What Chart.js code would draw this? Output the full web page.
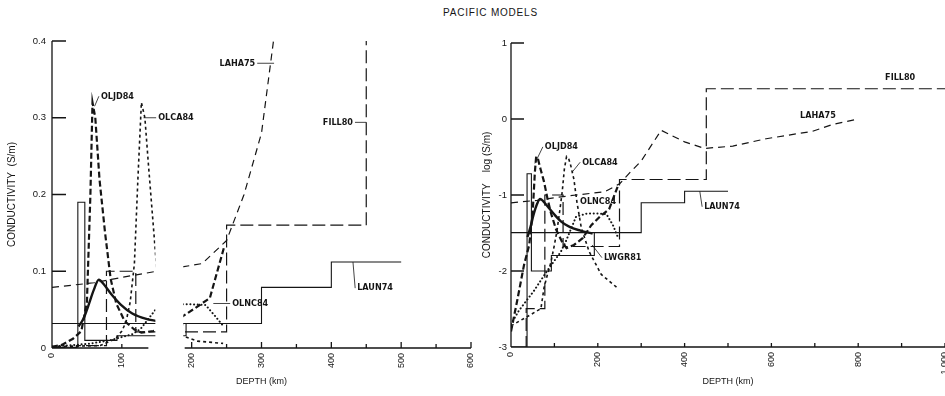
<!DOCTYPE html>
<html lang="en">
<head>
<meta charset="utf-8">
<title>Pacific models</title>
<script src="https://cdn.jsdelivr.net/npm/chart.js"></script>
<style>
    body { margin: 0; width: 945px; height: 396px; overflow: hidden; background: #fff; position: relative; }
    #figTitle { position: absolute; left: 443px; top: 7px; font: 10px "Liberation Sans", Arial, sans-serif; letter-spacing: 0.8px; color: #151515; }
    canvas { position: absolute; top: 0; }
    #linChart { left: 0; }
    #logChart { left: 465px; }
</style>
</head>
<body>
<div id="figTitle">PACIFIC MODELS</div>
<canvas id="linChart" width="490" height="396"></canvas>
<canvas id="logChart" width="480" height="396"></canvas>
<script>
// depth in km, conductivity in S/m (same models in both panels)
const laun74Depth = [0, 300, 300, 400, 400, 500];
const laun74Sigma = [0.032, 0.032, 0.079, 0.079, 0.112, 0.112];

const lwgr81Depth = [0, 37, 37, 47, 47, 93, 93, 192, 192];
const lwgr81Sigma = [0.001, 0.001, 0.19, 0.19, 0.01, 0.01, 0.016, 0.016, 0.032];

const smoothDepth = [38, 45, 52, 60, 67, 75, 85, 98, 115, 135, 160, 188];
const smoothSigma = [0.028, 0.038, 0.055, 0.076, 0.089, 0.082, 0.07, 0.057, 0.045, 0.038, 0.034, 0.031];

const oljd84Depth = [0, 14, 30, 42, 50, 55, 58, 62, 68, 76, 84, 92, 104, 118, 128, 145, 165, 185, 205, 226, 246];
const oljd84Sigma = [0.0016, 0.004, 0.012, 0.022, 0.06, 0.2, 0.32, 0.3, 0.22, 0.15, 0.09, 0.058, 0.035, 0.024, 0.02, 0.022, 0.027, 0.04, 0.052, 0.065, 0.13];

const olca84Depth = [0, 37, 69, 76, 84, 92, 100, 106, 112, 118, 123, 128, 133, 138, 145, 152, 162, 180, 208, 245];
const olca84Sigma = [0.0019, 0.0025, 0.0032, 0.006, 0.009, 0.013, 0.022, 0.034, 0.06, 0.11, 0.22, 0.32, 0.3, 0.24, 0.16, 0.08, 0.037, 0.018, 0.009, 0.006];

const olnc84Depth = [0, 18, 53, 83, 115, 127, 150, 175, 200, 220, 235, 245];
const olnc84Sigma = [0.002, 0.003, 0.0055, 0.01, 0.018, 0.025, 0.052, 0.057, 0.057, 0.056, 0.04, 0.029];

const laha75Depth = [0, 60, 100, 150, 215, 250, 275, 300, 320, 346, 400, 446, 511, 588, 695, 742, 800];
const laha75Sigma = [0.079, 0.085, 0.092, 0.1, 0.11, 0.14, 0.2, 0.28, 0.42, 0.71, 0.5, 0.41, 0.44, 0.55, 0.69, 0.85, 1.0];

const fill80Depth = [0, 35, 35, 78, 78, 120, 120, 250, 250, 450, 450, 1000];
const fill80Sigma = [0.0005, 0.0005, 0.0032, 0.0032, 0.1, 0.1, 0.021, 0.021, 0.16, 0.16, 2.5, 2.5];

// axis ticks
const linDepthTicks = [0, 100, 200, 300, 400, 500, 600];
const linSigmaTicks = [0, 0.1, 0.2, 0.3, 0.4];
const linSigmaLabels = ["0", "0.1", "0.2", "0.3", "0.4"];
const logDepthTicks = [0, 200, 400, 600, 800, 1000];
const logSigmaTicks = [0.001, 0.01, 0.1, 1, 10];
const logSigmaLabels = ["-3", "-2", "-1", "0", "1"];

const ink = "#151515";
const family = '"Liberation Sans", Arial, sans-serif';
const noteFont = 'bold 9px "Liberation Sans Narrow", "DejaVu Sans Condensed", sans-serif';

const models = [
    { label: "LAUN74", depth: laun74Depth, sigma: laun74Sigma, width: 1.1, dash: [] },
    { label: "LWGR81", depth: lwgr81Depth, sigma: lwgr81Sigma, width: 1.1, dash: [] },
    { label: "", depth: smoothDepth, sigma: smoothSigma, width: 2.4, dash: [], smooth: true },
    { label: "OLJD84", depth: oljd84Depth, sigma: oljd84Sigma, width: 2.2, dash: [6, 3] },
    { label: "OLCA84", depth: olca84Depth, sigma: olca84Sigma, width: 1.6, dash: [3, 3] },
    { label: "OLNC84", depth: olnc84Depth, sigma: olnc84Sigma, width: 2, dash: [0.1, 3.6], cap: "round" },
    { label: "LAHA75", depth: laha75Depth, sigma: laha75Sigma, width: 1.2, dash: [7, 5] },
    { label: "FILL80", depth: fill80Depth, sigma: fill80Sigma, width: 1.2, dash: [13, 5] },
];

// label text at [depth, sigma], leader line to [depth, sigma]
const leftNotes = [
    { text: "OLJD84", at: [70, 0.328], to: [61, 0.315] },
    { text: "OLCA84", at: [152, 0.3], to: [131, 0.3] },
    { text: "LAHA75", at: [291, 0.371], to: [318, 0.371], align: "right" },
    { text: "FILL80", at: [431, 0.294], to: [450, 0.294], align: "right" },
    { text: "OLNC84", at: [258, 0.058], to: [231, 0.058] },
    { text: "LAUN74", at: [437, 0.078], to: [431, 0.112] },
];
const rightNotes = [
    { text: "OLJD84", at: [78, 0.43], to: [55, 0.26] },
    { text: "OLCA84", at: [164, 0.27], to: [141, 0.2] },
    { text: "OLNC84", at: [159, 0.081] },
    { text: "LWGR81", at: [214, 0.015], to: [187, 0.022] },
    { text: "LAUN74", at: [445, 0.07], to: [435, 0.112] },
    { text: "LAHA75", at: [666, 1.1] },
    { text: "FILL80", at: [862, 3.5] },
];

const buildDatasets = () =>
    models.map((m) => ({
        label: m.label,
        data: m.depth.map((d, i) => ({ x: d, y: m.sigma[i] })),
        showLine: true,
        fill: false,
        pointRadius: 0,
        borderColor: ink,
        borderWidth: m.width,
        borderDash: m.dash,
        borderCapStyle: m.cap || "butt",
        cubicInterpolationMode: m.smooth ? "monotone" : "default",
    }));

// hides the depth band where the left panel is broken
const gapClip = {
    id: "gapClip",
    beforeDatasetsDraw(chart, args, opts) {
        const { ctx, chartArea: area, scales } = chart;
        ctx.save();
        ctx.beginPath();
        let left = area.left - 5;
        (opts.gaps || []).forEach(([from, to]) => {
            const p0 = scales.x.getPixelForValue(from);
            ctx.rect(left, 0, p0 - left, chart.height);
            left = scales.x.getPixelForValue(to);
        });
        ctx.rect(left, 0, chart.width - left, chart.height);
        ctx.clip();
    },
    afterDatasetsDraw(chart) {
        chart.ctx.restore();
    },
};

// axis lines and inward tick marks
const axisFrame = {
    id: "axisFrame",
    afterDatasetsDraw(chart, args, opts) {
        const { ctx, chartArea: area, scales } = chart;
        const x = scales.x;
        const y = scales.y;
        ctx.save();
        ctx.strokeStyle = ink;
        ctx.lineWidth = 1.3;
        ctx.beginPath();
        ctx.moveTo(area.left, area.top);
        ctx.lineTo(area.left, area.bottom);
        opts.xLine.forEach(([from, to]) => {
            ctx.moveTo(x.getPixelForValue(from), area.bottom);
            ctx.lineTo(x.getPixelForValue(to), area.bottom);
        });
        y.ticks.forEach((t) => {
            const py = y.getPixelForValue(t.value);
            ctx.moveTo(area.left, py);
            ctx.lineTo(area.left + opts.yTick, py);
        });
        opts.xMarks.forEach(([v, len]) => {
            const px = x.getPixelForValue(v);
            ctx.moveTo(px, area.bottom);
            ctx.lineTo(px, area.bottom - len);
        });
        ctx.stroke();
        ctx.restore();
    },
};

const modelNotes = {
    id: "modelNotes",
    afterDatasetsDraw(chart, args, opts) {
        const { ctx, scales } = chart;
        ctx.save();
        ctx.font = noteFont;
        ctx.fillStyle = ink;
        ctx.strokeStyle = ink;
        ctx.lineWidth = 0.8;
        ctx.textBaseline = "middle";
        opts.notes.forEach((n) => {
            const tx = scales.x.getPixelForValue(n.at[0]);
            const ty = scales.y.getPixelForValue(n.at[1]);
            ctx.textAlign = n.align || "left";
            ctx.fillText(n.text, tx, ty);
            if (n.to) {
                const sx = n.align === "right" ? tx + 2 : tx - 2;
                ctx.beginPath();
                ctx.moveTo(sx, ty);
                ctx.lineTo(scales.x.getPixelForValue(n.to[0]), scales.y.getPixelForValue(n.to[1]));
                ctx.stroke();
            }
        });
        ctx.restore();
    },
};

const depthAxis = (min, max, tickValues, height) => ({
    type: "linear",
    min: min,
    max: max,
    afterBuildTicks: (axis) => {
        axis.ticks = tickValues.map((v) => ({ value: v }));
    },
    afterFit: (scale) => {
        scale.height = height;
        scale.paddingLeft = 0;
        scale.paddingRight = 0;
    },
    grid: { display: false, drawTicks: false },
    border: { display: false },
    ticks: {
        autoSkip: false,
        minRotation: 90,
        maxRotation: 90,
        padding: 5,
        color: ink,
        font: { family: family, size: 9 },
    },
    title: {
        display: true,
        text: "DEPTH (km)",
        color: ink,
        font: { family: family, size: 9 },
        padding: { top: 0, bottom: 8.6 },
    },
});

const sigmaAxis = (extra, tickValues, tickLabels, width, labelPad, titleText, titlePad) => Object.assign({
    afterBuildTicks: (axis) => {
        axis.ticks = tickValues.map((v) => ({ value: v }));
    },
    afterFit: (scale) => {
        scale.width = width;
        scale.paddingTop = 0;
        scale.paddingBottom = 0;
    },
    grid: { display: false, drawTicks: false },
    border: { display: false },
    ticks: {
        padding: labelPad,
        color: ink,
        font: { family: family, size: 9.5 },
        callback: (value, index) => tickLabels[index],
    },
    title: {
        display: true,
        text: titleText,
        color: ink,
        font: { family: family, size: 10 },
        padding: { top: titlePad, bottom: 0 },
    },
}, extra);

new Chart(document.getElementById("linChart"), {
    type: "scatter",
    data: { datasets: buildDatasets() },
    options: {
        responsive: false,
        animation: false,
        layout: { padding: { left: 0, right: 19, top: 41, bottom: 0 } },
        plugins: {
            legend: { display: false },
            tooltip: { enabled: false },
            gapClip: { gaps: [[148, 188]] },
            axisFrame: {
                xLine: [[0, 138], [190, 600]],
                yTick: 14,
                xMarks: [[100, 4], [200, 6], [250, 4], [300, 6], [350, 4], [400, 6], [450, 4], [500, 6], [550, 4], [600, 6]],
            },
            modelNotes: { notes: leftNotes },
        },
        scales: {
            x: depthAxis(0, 600, linDepthTicks, 48),
            y: sigmaAxis({ type: "linear", min: 0, max: 0.4 }, linSigmaTicks, linSigmaLabels, 52, 6, "CONDUCTIVITY  (S/m)", 6),
        },
    },
    plugins: [gapClip, axisFrame, modelNotes],
});

new Chart(document.getElementById("logChart"), {
    type: "scatter",
    data: { datasets: buildDatasets() },
    options: {
        responsive: false,
        animation: false,
        layout: { padding: { left: 0, right: 0, top: 43, bottom: 0 } },
        plugins: {
            legend: { display: false },
            tooltip: { enabled: false },
            axisFrame: {
                xLine: [[0, 1000]],
                yTick: 13,
                xMarks: [[100, 4], [200, 4], [300, 4], [400, 4], [500, 4], [600, 4], [700, 4], [800, 4], [900, 4], [1000, 4]],
            },
            modelNotes: { notes: rightNotes },
        },
        scales: {
            x: depthAxis(0, 1000, logDepthTicks, 49),
            y: sigmaAxis({ type: "logarithmic", min: 0.001, max: 10 }, logSigmaTicks, logSigmaLabels, 46, 4, "CONDUCTIVITY    log (S/m)", 16),
        },
    },
    plugins: [axisFrame, modelNotes],
});
</script>
</body>
</html>
